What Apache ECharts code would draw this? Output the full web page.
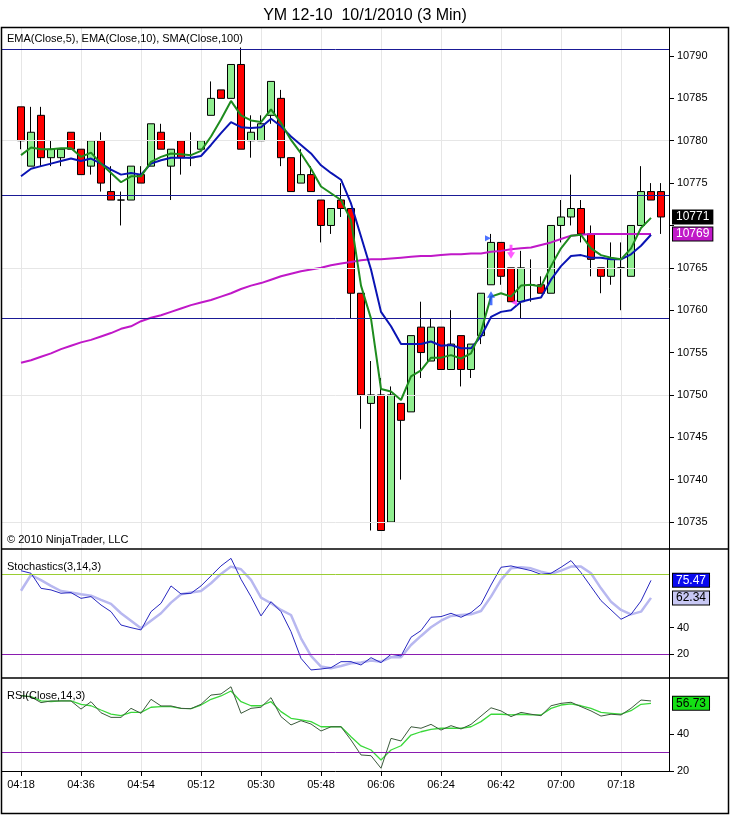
<!DOCTYPE html>
<html><head><meta charset="utf-8">
<script src="https://cdn.jsdelivr.net/npm/echarts@6/dist/echarts.min.js"></script>
<style>html,body{margin:0;padding:0;background:#fff}#c{width:730px;height:815px}</style>
</head><body><div id="c"></div>
<script>
// ---- x-axis tick labels (bar index -> time) ----
const tickIndex = [0,6,12,18,24,30,36,42,48,54,60];
const tickLabels = ['04:18','04:36','04:54','05:12','05:30','05:48','06:06','06:24','06:42','07:00','07:18'];

// ---- OHLC (65 three-minute bars, 04:18 .. 07:30) ----
const open  = [10784,10777,10783,10778,10778,10781,10779,10777,10780,10774,10773,10773,10776,10777,10781,10777,10780,10778,10779,10783,10786,10785,10789,10780,10780,10783,10785,10778,10775,10776,10773,10770,10773,10772,10762,10749,10750,10735,10749,10748,10758,10754,10758,10753,10757,10753,10757,10763,10768,10765,10761,10763,10763,10762,10770,10771,10772,10769,10765,10764,10765,10764,10770,10774,10774];
const close = [10780,10781,10778,10779,10779,10779,10776,10780,10775,10773,10773,10777,10775,10782,10779,10779,10778,10778,10780,10785,10785,10789,10779,10781,10782,10787,10778,10774,10776,10774,10770,10772,10772,10762,10750,10750,10734,10750,10747,10757,10755,10758,10753,10756,10753,10756,10762,10768,10764,10761,10765,10763,10762,10770,10771,10772,10769,10766,10764,10766,10765,10770,10774,10773,10771];
const low   = [10779,10777,10777,10777,10777,10779,10776,10776,10774,10773,10770,10773,10775,10777,10779,10773,10776,10777,10779,10783,10785,10785,10779,10778,10780,10782,10777,10774,10775,10774,10768,10769,10771,10759,10746,10734,10734,10735,10740,10748,10752,10754,10753,10753,10751,10752,10756,10763,10763,10761,10759,10761,10762,10762,10768,10770,10768,10764,10762,10763,10760,10764,10770,10773,10769];
const high  = [10784,10784,10784,10780,10779,10781,10779,10780,10781,10777,10774,10777,10777,10782,10782,10779,10780,10781,10780,10787,10786,10789,10791,10783,10783,10787,10786,10778,10779,10777,10773,10772,10775,10772,10762,10754,10752,10751,10749,10757,10761,10759,10758,10760,10757,10756,10762,10769,10768,10765,10767,10766,10764,10770,10773,10776,10773,10770,10765,10768,10768,10770,10777,10775,10775];

// ---- price indicators (64 values, last bar not yet calculated) ----
const ema5  = [10778.3,10779.2,10779.0,10779.0,10779.1,10779.1,10778.1,10778.6,10777.3,10776.2,10775.1,10775.8,10775.8,10777.5,10778.1,10778.5,10778.4,10778.3,10778.8,10780.5,10782.5,10784.7,10783.0,10782.4,10782.2,10783.7,10782.1,10780.1,10778.5,10776.7,10774.6,10773.8,10773.0,10770.6,10762.9,10759.0,10750.7,10750.4,10749.4,10752.2,10752.9,10754.4,10754.4,10754.7,10754.3,10754.9,10757.5,10761.6,10762.0,10761.6,10762.9,10763.0,10762.8,10765.2,10767.3,10768.8,10768.9,10767.3,10766.5,10766.2,10766.0,10767.3,10769.7,10770.9];
const ema10 = [10775.8,10776.7,10777.0,10777.3,10777.6,10777.9,10777.6,10777.9,10777.3,10776.6,10776.0,10776.2,10776.0,10777.3,10777.7,10778.0,10778.0,10778.0,10778.2,10779.5,10780.9,10782.2,10781.6,10781.5,10781.6,10782.6,10781.7,10780.5,10779.5,10778.5,10777.1,10776.2,10775.4,10772.6,10768.7,10764.8,10759.8,10758.1,10756.0,10756.0,10756.0,10756.3,10755.8,10755.9,10755.5,10755.5,10756.9,10759.2,10759.8,10760.0,10761.0,10761.3,10761.5,10763.6,10765.2,10766.4,10766.5,10766.2,10766.2,10766.0,10766.0,10766.6,10767.6,10768.9];
const sma100 = [10753.8,10754.1,10754.5,10754.9,10755.4,10755.8,10756.2,10756.5,10756.9,10757.3,10757.8,10758.1,10758.7,10759.1,10759.4,10759.8,10760.2,10760.6,10760.9,10761.2,10761.6,10762.0,10762.5,10762.9,10763.2,10763.6,10764.0,10764.3,10764.6,10764.8,10765.0,10765.3,10765.5,10765.7,10765.9,10766.0,10766.0,10766.1,10766.2,10766.3,10766.4,10766.4,10766.5,10766.6,10766.6,10766.7,10766.7,10766.9,10767.0,10767.2,10767.3,10767.4,10767.7,10768.0,10768.4,10768.8,10768.9,10769.0,10769.0,10769.0,10769.0,10769.0,10769.0,10769.0];

// ---- Stochastics(3,14,3) ----
const stochK = [82.7,80.8,69.5,68.3,65.8,66.3,62.0,63.3,57.0,52.0,42.0,40.0,38.3,52.0,58.3,71.3,65.3,65.8,71.3,78.8,86.3,92.0,76.3,63.3,48.8,59.5,52.0,37.0,17.0,8.3,9.0,10.0,14.5,14.5,12.0,17.5,13.8,20.0,18.8,32.8,37.8,47.8,48.3,50.8,47.8,51.3,57.5,72.0,85.3,86.3,84.5,82.8,80.0,80.8,85.3,90.3,81.3,70.8,60.3,53.3,46.3,50.0,60.0,75.47];
const stochD = [67.7,79.5,75.7,71.3,67.5,66.3,65.0,64.0,60.8,57.8,50.8,45.2,39.5,45.2,50.8,58.8,65.0,66.3,67.5,73.3,80.3,85.8,83.8,75.8,62.5,58.3,53.3,49.5,32.0,18.8,10.8,9.5,11.3,13.3,13.8,15.3,14.5,17.8,17.8,27.0,33.8,40.3,45.2,48.8,49.5,50.0,52.5,63.3,75.8,84.5,85.3,84.5,82.0,80.3,82.8,85.8,85.8,80.8,69.5,59.5,53.3,50.0,52.0,62.34];

// ---- RSI(Close,14,3) ----
const rsi    = [60.9,60.2,57.1,58.0,58.0,58.0,53.6,57.6,51.6,49.1,49.1,54.0,51.3,58.9,55.3,55.3,54.0,53.8,56.2,61.2,61.8,65.7,51.3,54.0,54.6,59.8,49.5,45.0,47.3,45.5,41.7,44.0,44.0,36.8,28.7,28.3,21.5,37.7,36.3,44.0,43.2,45.3,42.2,44.6,42.8,45.3,49.8,54.3,52.6,49.5,51.8,50.8,50.0,55.4,56.7,57.3,54.9,52.6,49.8,50.8,50.4,54.0,58.5,58.0];
const rsiAvg = [60.9,60.4,58.0,57.7,58.0,58.0,56.2,55.4,53.1,50.9,50.0,51.8,51.8,54.6,54.9,54.9,54.0,53.8,55.8,58.9,60.7,63.4,57.6,55.4,55.4,57.6,52.2,48.6,47.7,46.8,44.0,44.0,44.0,38.6,33.6,31.4,26.0,31.4,33.7,39.5,41.3,42.6,43.2,43.2,43.2,44.0,46.8,50.8,50.8,50.4,50.8,50.4,50.4,54.0,55.8,56.4,55.4,54.0,51.8,51.3,50.8,52.7,56.2,56.73];

// ---- axis ticks / levels / drawn objects ----
const priceTicks  = [10735,10740,10745,10750,10755,10760,10765,10770,10775,10780,10785,10790];
const priceLabels = [10735,10740,10745,10750,10755,10760,10765,10775,10780,10785,10790];
const priceGrid   = [10735,10750,10765,10780];
const drawnLines  = [10790.8,10773.6,10759];
const stochTicks  = [20,40];
const stochUpper  = [80];
const stochLower  = [20];
const rsiTicks    = [20,40];
const rsiLower    = [30];
const buyArrows   = [[47,10761.4]];
const sellArrows  = [[49,10766.9]];
const buyFlags    = [[46.7,10768.5]];
const sellFlags   = [[49.3,10760.9]];

const FONT = 'Liberation Sans, Arial, sans-serif';
const pairs = arr => arr.map((v,i)=>[i,v]);
const candles = open.map((o,i)=>[i,o,close[i],low[i],high[i]]);
const gridLineColor = '#e6e6e6';
const NAVY = '#1a1a96';
const ARROW = 'path://M5,0 L10,7 L6.8,7 L6.8,15 L3.2,15 L3.2,7 L0,7 Z';

function xAxisFor(g, showLabels){
  return {
    type:'value', gridIndex:g, min:-1.9, max:64.8,
    axisLine:{show:showLabels, onZero:false, lineStyle:{color:'#000', width:1}},
    axisTick:{show:showLabels, customValues:tickIndex, length:5, lineStyle:{color:'#000'}},
    axisLabel:{show:showLabels, customValues:tickIndex, margin:8, fontSize:11, color:'#000', fontFamily:FONT,
      formatter:v=>{const k=tickIndex.indexOf(v); return k>=0?tickLabels[k]:'';}},
    splitLine:{show:true, lineStyle:{color:gridLineColor, width:1}}
  };
}
function yAxisFor(g, min, max, ticks, labels){
  return {
    type:'value', gridIndex:g, position:'right', min:min, max:max,
    axisLine:{show:true, onZero:false, lineStyle:{color:'#000', width:1}},
    axisTick:{show:true, customValues:ticks, length:5, lineStyle:{color:'#000'}},
    axisLabel:{show:true, customValues:labels, margin:8, fontSize:11, color:'#000', fontFamily:FONT,
      formatter:v=>String(v)},
    splitLine:{show:false}
  };
}
function badgeItem(value, bg, fg){
  return {
    yAxis:value,
    lineStyle:{color:'rgba(0,0,0,0)', width:0},
    label:{show:true, position:'end', distance:4, formatter:String(value),
      backgroundColor:bg, color:fg, borderColor:'#000', borderWidth:1,
      padding:[1,3,0,3], fontSize:12, fontFamily:FONT}
  };
}
function markLines(items){
  return {silent:true, symbol:['none','none'], animation:false, label:{show:false}, data:items};
}
function lvl(v, color){
  return {yAxis:v, lineStyle:{color:color, width:1, type:'solid'}};
}

const chart = echarts.init(document.getElementById('c'), null, {renderer:'canvas'});
const option = {
  animation:false,
  backgroundColor:'#fff',
  title:{text:'YM 12-10  10/1/2010 (3 Min)', left:'center', top:3,
    textStyle:{fontSize:16, fontWeight:'normal', color:'#000', fontFamily:FONT}},
  grid:[
    {left:2, right:61, top:27.5, height:521.5},
    {left:2, right:61, top:549, height:129},
    {left:2, right:61, top:678, height:93}
  ],
  xAxis:[xAxisFor(0,false), xAxisFor(1,false), xAxisFor(2,true)],
  yAxis:[
    yAxisFor(0, 10731.815, 10793.364, priceTicks, priceLabels),
    yAxisFor(1, 2.25, 99, stochTicks, stochTicks),
    yAxisFor(2, 20, 70.46, rsiTicks, rsiTicks)
  ],
  series:[
    {type:'line', xAxisIndex:0, yAxisIndex:0, data:[], z:1,
      markLine: markLines(priceGrid.map(v=>lvl(v, gridLineColor)))},
    {type:'candlestick', xAxisIndex:0, yAxisIndex:0, data:candles, barWidth:7, z:3,
      itemStyle:{color:'#90ee90', color0:'#ff0000', borderColor:'#000', borderColor0:'#000', borderColorDoji:'#000', borderWidth:1},
      markLine: markLines([...drawnLines.map(v=>lvl(v, NAVY)), badgeItem(close[close.length-1], '#000', '#fff')])},
    {type:'line', xAxisIndex:0, yAxisIndex:0, data:pairs(sma100), symbol:'none', z:4,
      lineStyle:{color:'#c018c8', width:2},
      markLine: markLines([badgeItem(sma100[sma100.length-1], '#c018c8', '#fff')])},
    {type:'line', xAxisIndex:0, yAxisIndex:0, data:pairs(ema10), symbol:'none', z:5,
      lineStyle:{color:'#0a14b4', width:2}},
    {type:'line', xAxisIndex:0, yAxisIndex:0, data:pairs(ema5), symbol:'none', z:6,
      lineStyle:{color:'#1e8c1e', width:2}},
    {type:'scatter', xAxisIndex:0, yAxisIndex:0, data:buyArrows, z:7,
      symbol:ARROW, symbolSize:[8,14], itemStyle:{color:'#1f4fff'}},
    {type:'scatter', xAxisIndex:0, yAxisIndex:0, data:sellArrows, z:7,
      symbol:ARROW, symbolSize:[8,14], symbolRotate:180, itemStyle:{color:'#ff33ff'}},
    {type:'scatter', xAxisIndex:0, yAxisIndex:0, data:buyFlags, z:7,
      symbol:'triangle', symbolSize:[6,6], symbolRotate:-90, itemStyle:{color:'#1f4fff'}},
    {type:'scatter', xAxisIndex:0, yAxisIndex:0, data:sellFlags, z:7,
      symbol:'triangle', symbolSize:[6,6], symbolRotate:90, itemStyle:{color:'#ff33ff'}},

    {type:'line', xAxisIndex:1, yAxisIndex:1, data:[], z:2,
      markLine: markLines([...stochUpper.map(v=>lvl(v,'#9acd32')), ...stochLower.map(v=>lvl(v,'#8a1cb0'))])},
    {type:'line', xAxisIndex:1, yAxisIndex:1, data:pairs(stochD), symbol:'none', z:3,
      lineStyle:{color:'#b8b8f0', width:2.5},
      markLine: markLines([badgeItem(stochD[stochD.length-1], '#c8c8f4', '#000')])},
    {type:'line', xAxisIndex:1, yAxisIndex:1, data:pairs(stochK), symbol:'none', z:4,
      lineStyle:{color:'#2828c0', width:1},
      markLine: markLines([badgeItem(stochK[stochK.length-1], '#0a0aee', '#fff')])},

    {type:'line', xAxisIndex:2, yAxisIndex:2, data:[], z:2,
      markLine: markLines(rsiLower.map(v=>lvl(v,'#8a1cb0')))},
    {type:'line', xAxisIndex:2, yAxisIndex:2, data:pairs(rsiAvg), symbol:'none', z:3,
      lineStyle:{color:'#3ad83a', width:1.3},
      markLine: markLines([badgeItem(rsiAvg[rsiAvg.length-1], '#14e014', '#000')])},
    {type:'line', xAxisIndex:2, yAxisIndex:2, data:pairs(rsi), symbol:'none', z:4,
      lineStyle:{color:'#3c5a3c', width:1}}
  ],
  graphic:[
    {type:'rect', shape:{x:1.5, y:27.5, width:727, height:786}, style:{fill:null, stroke:'#000', lineWidth:1.5}, silent:true, z:100},
    {type:'line', shape:{x1:1.5, y1:549, x2:728.5, y2:549}, style:{stroke:'#000', lineWidth:1.5}, silent:true, z:100},
    {type:'line', shape:{x1:1.5, y1:678, x2:728.5, y2:678}, style:{stroke:'#000', lineWidth:1.5}, silent:true, z:100},
    {type:'text', left:7, top:33, style:{text:'EMA(Close,5), EMA(Close,10), SMA(Close,100)', fontSize:11, fill:'#000', fontFamily:FONT}, z:100},
    {type:'text', left:7, top:534, style:{text:'\u00A9 2010 NinjaTrader, LLC', fontSize:11, fill:'#000', fontFamily:FONT}, z:100},
    {type:'text', left:7, top:561, style:{text:'Stochastics(3,14,3)', fontSize:11, fill:'#000', fontFamily:FONT}, z:100},
    {type:'text', left:7, top:690, style:{text:'RSI(Close,14,3)', fontSize:11, fill:'#000', fontFamily:FONT}, z:100}
  ]
};
chart.setOption(option);
</script>
</body></html>
